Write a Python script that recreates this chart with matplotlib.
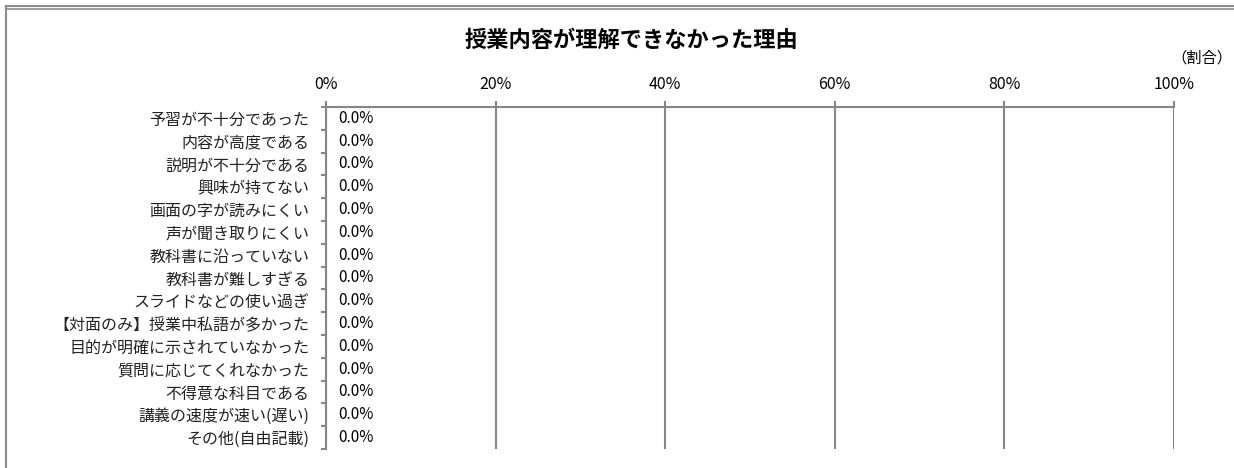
import matplotlib
matplotlib.use("Agg")
import matplotlib.pyplot as plt
from matplotlib.ticker import FuncFormatter, FixedLocator
from matplotlib.lines import Line2D

plt.rcParams['font.family'] = ['Noto Sans CJK JP', 'DejaVu Sans']

# データ
categories = [
    '予習が不十分であった',
    '内容が高度である',
    '説明が不十分である',
    '興味が持てない',
    '画面の字が読みにくい',
    '声が聞き取りにくい',
    '教科書に沿っていない',
    '教科書が難しすぎる',
    'スライドなどの使い過ぎ',
    '【対面のみ】授業中私語が多かった',
    '目的が明確に示されていなかった',
    '質問に応じてくれなかった',
    '不得意な科目である',
    '講義の速度が速い(遅い)',
    'その他(自由記載)',
]
ratios = [0.0] * len(categories)
x_ticks = [0.0, 0.2, 0.4, 0.6, 0.8, 1.0]

grey = '#868686'

fig = plt.figure(figsize=(12.34, 4.68), dpi=100)
ax = fig.add_axes([326 / 1234, 1 - 449 / 468, (1174 - 326) / 1234, (449 - 107) / 468])

y = list(range(len(categories)))
bars = ax.barh(y, ratios, height=0.6, color='#4472C4')
ax.bar_label(bars, labels=[f'{v * 100:.1f}%' for v in ratios], padding=9, fontsize=11, color='black')

ax.set_xlim(0, 1)
ax.set_ylim(len(categories) - 0.5, -0.5)

# 上側の目盛り
ax.xaxis.tick_top()
ax.set_xticks(x_ticks)
ax.xaxis.set_major_formatter(FuncFormatter(lambda v, p: f'{v * 100:.0f}%'))
ax.tick_params(axis='x', which='major', direction='out', length=4, width=1.5, color=grey, pad=6, labelsize=11.5)
ax.grid(axis='x', color=grey, linewidth=1.5)
ax.set_axisbelow(True)

# 左側の目盛り
ax.set_yticks(y)
ax.set_yticklabels(categories, fontsize=11.5, color='#222222')
ax.yaxis.set_minor_locator(FixedLocator([i - 0.5 for i in range(len(categories) + 1)]))
ax.tick_params(axis='y', which='major', length=0, pad=12)
ax.tick_params(axis='y', which='minor', direction='out', length=3.5, width=1.5, color=grey)

for s in ['right', 'bottom']:
    ax.spines[s].set_visible(False)
for s in ['top', 'left']:
    ax.spines[s].set_color(grey)
    ax.spines[s].set_linewidth(1.5)

fig.text(631 / 1234, 1 - 40 / 468, '授業内容が理解できなかった理由', ha='center', va='center',
         fontsize=16, fontweight='bold')
fig.text(1232 / 1234, 1 - 58 / 468, '（割合）', ha='right', va='center', fontsize=11)

# 外枠
fig.add_artist(Line2D([6 / 1234, 1], [1 - 5.5 / 468, 1 - 5.5 / 468], color='#8c8c8c', linewidth=1.5))
fig.add_artist(Line2D([6 / 1234, 1], [1 - 8.5 / 468, 1 - 8.5 / 468], color='#a0a0a0', linewidth=1.5))
fig.add_artist(Line2D([6 / 1234, 6 / 1234], [0, 1 - 5.5 / 468], color='#8c8c8c', linewidth=1.5))

fig.savefig('out.png', dpi=100)
